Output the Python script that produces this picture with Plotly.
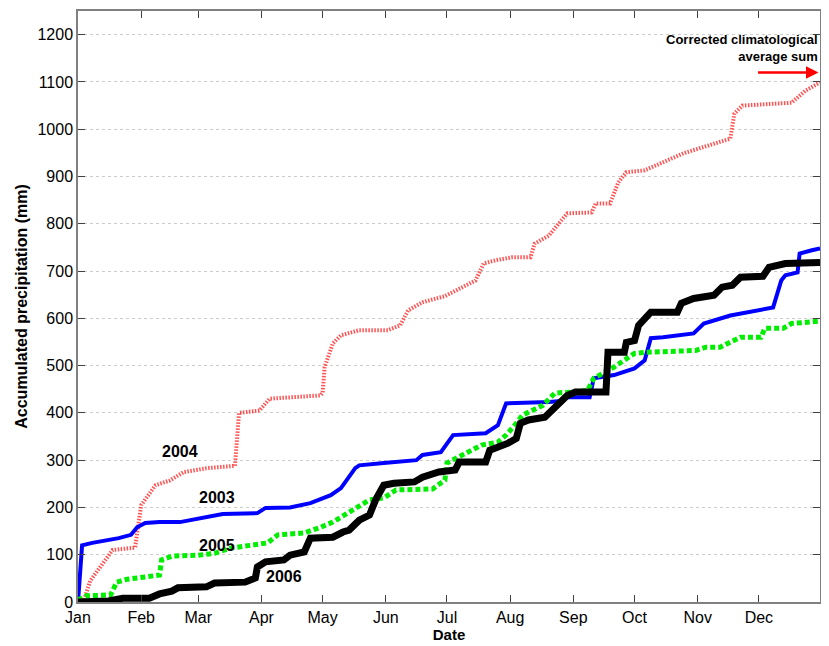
import pandas as pd
import plotly.graph_objects as go

# day-of-year (0 = 1 Jan) and accumulated precipitation (mm)
days_2003 = [0, 2, 7, 20, 26, 29, 33, 40, 50, 59, 71, 88, 92, 104, 114, 124, 129, 136, 138, 150,
             166, 169, 178, 184, 200, 206, 210, 231, 237, 239, 251, 253, 263, 273, 278, 281, 287,
             302, 307, 320, 333, 341, 345, 347, 353, 354, 360, 364]
vals_2003 = [0, 120, 125, 135, 142, 158, 167, 169, 169, 177, 186, 188, 199, 200, 209, 226, 241, 283,
             289, 294, 300, 311, 317, 353, 357, 374, 420, 423, 425, 433, 433, 473, 480, 494, 511,
             558, 560, 568, 589, 606, 617, 623, 680, 691, 697, 737, 744, 748]

days_2004 = [3, 6, 17, 28, 31, 38, 45, 52, 63, 77, 79, 89, 94, 119, 120, 121, 125, 129, 138, 152,
             158, 162, 169, 180, 195, 199, 205, 213, 222, 224, 231, 240, 252, 254, 261, 265, 269,
             278, 297, 312, 320, 322, 326, 350, 357, 364]
vals_2004 = [5, 45, 110, 115, 205, 247, 257, 275, 283, 288, 400, 405, 430, 437, 442, 497, 547, 564,
             575, 575, 585, 617, 634, 647, 680, 716, 723, 729, 729, 758, 775, 822, 824, 843, 843,
             887, 909, 913, 949, 970, 980, 1033, 1050, 1056, 1082, 1099]

days_2005 = [0, 4, 16, 19, 24, 40, 41, 46, 59, 67, 75, 93, 98, 111, 119, 125, 133, 143, 150, 156,
             174, 180, 181, 189, 198, 206, 210, 215, 218, 228, 234, 242, 250, 253, 263, 273, 278,
             303, 308, 315, 325, 335, 337, 346, 350, 364]
vals_2005 = [4, 13, 15, 42, 48, 57, 89, 97, 99, 103, 114, 125, 142, 146, 158, 169, 190, 216, 220,
             237, 239, 258, 294, 311, 332, 338, 353, 378, 395, 416, 442, 444, 448, 473, 497, 526,
             528, 532, 539, 539, 560, 560, 579, 579, 589, 594]

days_2006 = [0, 15, 22, 35, 40, 46, 49, 63, 67, 82, 87, 88, 92, 101, 104, 111, 114, 125, 130, 133,
             138, 143, 146, 150, 155, 165, 169, 177, 185, 187, 200, 202, 211, 215, 217, 221, 229,
             234, 240, 244, 259, 260, 268, 269, 273, 275, 279, 281, 294, 296, 302, 312, 316, 321,
             325, 336, 339, 347, 364]
vals_2006 = [0, 2, 8, 8, 17, 23, 30, 32, 40, 42, 51, 74, 85, 89, 99, 106, 135, 137, 148, 152, 173,
             184, 216, 247, 251, 254, 264, 275, 279, 296, 296, 321, 336, 346, 378, 385, 391, 412,
             437, 444, 444, 528, 528, 549, 553, 585, 606, 613, 613, 632, 642, 649, 666, 670, 687,
             689, 708, 716, 718]

climatological_sum = 1120

start = pd.Timestamp('2003-01-01')
end = start + pd.Timedelta(days=364)
fontName = 'Liberation Sans, Arial'

def toDates(days):
    return start + pd.to_timedelta(days, unit='D')

fig = go.Figure()
fig.add_trace(go.Scatter(x=toDates(days_2004), y=vals_2004, mode='lines',
                         line=dict(color='rgba(255,40,40,0.8)', width=4, dash='1.5px,1.5px')))
fig.add_trace(go.Scatter(x=toDates(days_2003), y=vals_2003, mode='lines',
                         line=dict(color='#0000ff', width=4)))
fig.add_trace(go.Scatter(x=toDates(days_2005), y=vals_2005, mode='lines',
                         line=dict(color='#00ee00', width=5, dash='5px,3px')))
fig.add_trace(go.Scatter(x=toDates(days_2006), y=vals_2006, mode='lines',
                         line=dict(color='black', width=7)))

# year labels
labelFont = dict(family=fontName, size=16, color='black')
for txt, d, v in [('2004', 50, 319), ('2003', 68, 220), ('2005', 68, 120), ('2006', 101, 53)]:
    fig.add_annotation(x=start + pd.Timedelta(days=d), y=v, text='<b>%s</b>' % txt,
                       showarrow=False, font=labelFont)

# climatological average arrow (pointing at the right edge)
fig.add_annotation(xref='paper', x=0.998, y=climatological_sum, ax=-62, ay=0,
                   showarrow=True, arrowhead=2, arrowsize=1, arrowwidth=2.5,
                   arrowcolor='red', text='')
fig.add_annotation(xref='paper', x=1.0, y=climatological_sum, xanchor='right', yanchor='bottom',
                   yshift=6, text='<b>Corrected climatological<br>average sum</b>',
                   showarrow=False, align='right',
                   font=dict(family=fontName, size=13, color='black'))

axisStyle = dict(showline=True, linecolor='#808080', linewidth=1.5, mirror='ticks',
                 ticks='inside', ticklen=7, tickcolor='#404040', zeroline=False,
                 automargin=False, tickfont=dict(family=fontName, size=16, color='black'))

# the page body adds an 8px offset, so the figure is sized to fit the window
fig.update_layout(
    template='simple_white',
    width=813,
    height=638,
    margin=dict(l=70, r=1, t=3, b=44, autoexpand=False),
    showlegend=False,
    plot_bgcolor='white',
    paper_bgcolor='white',
    xaxis=dict(axisStyle, range=[start, end], dtick='M1', tick0=start, tickformat='%b',
               showgrid=False,
               title=dict(text='<b>Date</b>', standoff=0,
                          font=dict(family=fontName, size=15, color='black'))),
    yaxis=dict(axisStyle, range=[0, 1250], dtick=100, showgrid=True, gridcolor='#cccccc',
               griddash='dot', gridwidth=1,
               title=dict(text='<b>Accumulated precipitation (mm)</b>', standoff=6,
                          font=dict(family=fontName, size=16, color='black'))),
)

fig.write_html('out.html')
